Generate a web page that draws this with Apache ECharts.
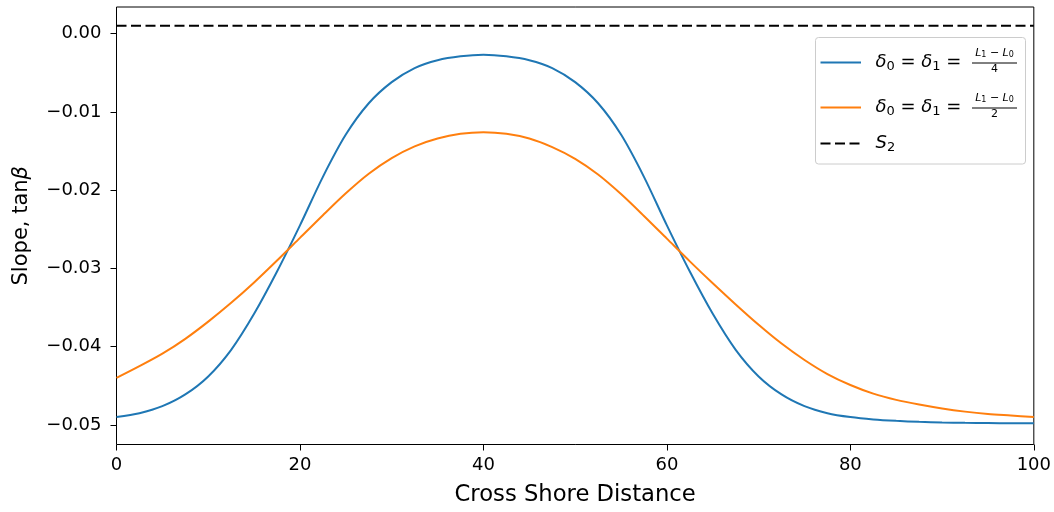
<!DOCTYPE html>
<html>
<head>
<meta charset="utf-8">
<script src="https://cdn.jsdelivr.net/npm/echarts@6/dist/echarts.min.js"></script>
<style>
  html, body { margin: 0; padding: 0; background: #fff; }
  #chart { width: 1054px; height: 512px; }
</style>
</head>
<body>
<div id="chart"></div>
<script>
// Cross-shore positions (same grid for both profiles)
const distance = [
  0, 2.5, 5, 7.5, 10, 12.5, 15, 17.5, 20, 22.5,
  25, 27.5, 30, 32.5, 35, 37.5, 40, 42.5, 45, 47.5,
  50, 52.5, 55, 57.5, 60, 62.5, 65, 67.5, 70, 72.5,
  75, 77.5, 80, 82.5, 85, 87.5, 90, 92.5, 95, 97.5, 100
];

// Slope profile, delta0 = delta1 = (L1 - L0) / 4
const slopeQuarter = [
  -0.0490, -0.0485, -0.0476, -0.0461, -0.0438, -0.0404, -0.0358, -0.0304, -0.0245, -0.0183,
  -0.0129, -0.0089, -0.0062, -0.0044, -0.0034, -0.0029, -0.0027, -0.0029, -0.0034, -0.0044,
  -0.0062, -0.0089, -0.0129, -0.0183, -0.0245, -0.0304, -0.0358, -0.0404, -0.0438, -0.0461,
  -0.0476, -0.0485, -0.0490, -0.0493, -0.04948, -0.0496, -0.04968, -0.04973, -0.04976, -0.04978, -0.0498
];

// Slope profile, delta0 = delta1 = (L1 - L0) / 2
const slopeHalf = [
  -0.0440, -0.0425, -0.0409, -0.0390, -0.0368, -0.0344, -0.0318, -0.0290, -0.0261, -0.0232,
  -0.0204, -0.0179, -0.0159, -0.0144, -0.0134, -0.0128, -0.0126, -0.0128, -0.0134, -0.0145,
  -0.0160, -0.0180, -0.0205, -0.0233, -0.0262, -0.0291, -0.0319, -0.0346, -0.0372, -0.0396,
  -0.0417, -0.0435, -0.0449, -0.0460, -0.0468, -0.0474, -0.0479, -0.0483, -0.0486, -0.0488, -0.0490
];

// Reference slope S2
const s2Level = 0.001;

const xTicks = [0, 20, 40, 60, 80, 100];
const yTicks = [-0.05, -0.04, -0.03, -0.02, -0.01, 0];

const BLUE = '#1f77b4';
const ORANGE = '#ff7f0e';
const FONT = '"DejaVu Sans", Verdana, sans-serif';

const chart = echarts.init(document.getElementById('chart'), null, { renderer: 'canvas' });

// --- legend with stacked fractions, laid out with measured text widths ---
const measureCtx = document.createElement('canvas').getContext('2d');
function fontStr(size, italic) {
  return (italic ? 'italic ' : '') + size + 'px ' + FONT;
}
function textWidth(t, size, italic) {
  measureCtx.font = fontStr(size, italic);
  return measureCtx.measureText(t).width;
}
function textEl(t, x, y, size, italic) {
  return {
    type: 'text', x: x, y: y, silent: true,
    style: {
      text: t, font: fontStr(size, italic), fill: '#000',
      align: 'left', verticalAlign: 'middle',
      textAlign: 'left', textVerticalAlign: 'middle'
    }
  };
}
// pieces: [text, size, italic, dy]
function runWidth(pieces) {
  return pieces.reduce((w, p) => w + textWidth(p[0], p[1], p[2]), 0);
}
function placeRun(pieces, x, y, out) {
  let cx = x;
  pieces.forEach(p => {
    out.push(textEl(p[0], cx, y + (p[3] || 0), p[1], p[2]));
    cx += textWidth(p[0], p[1], p[2]);
  });
  return cx;
}

const deltaRun = [
  ['δ', 18, true, 0], ['0', 13, false, 4], [' = ', 18, false, 0],
  ['δ', 18, true, 0], ['1', 13, false, 4], [' = ', 18, false, 0]
];
const numeratorRun = [
  ['L', 11, true, 0], ['1', 8, false, 2], [' − ', 11, false, 0],
  ['L', 11, true, 0], ['0', 8, false, 2]
];

const legendRows = [
  { color: BLUE, dashed: false, y: 62.5, denom: '4' },
  { color: ORANGE, dashed: false, y: 107.5, denom: '2' },
  { color: '#000', dashed: true, y: 143.5, label: [['S', 18, true, 0], ['2', 13, false, 4]] }
];

const legendEls = [{
  type: 'rect', silent: true,
  shape: { x: 815.5, y: 37.5, width: 210, height: 126.5, r: 3 },
  style: { fill: 'rgba(255,255,255,0.8)', stroke: '#cccccc', lineWidth: 1 }
}];
const textStartX = 875.5;
legendRows.forEach(row => {
  legendEls.push({
    type: 'line', silent: true,
    shape: { x1: 820.5, y1: row.y, x2: 861, y2: row.y },
    style: { stroke: row.color, lineWidth: 2, lineDash: row.dashed ? [10, 4.5] : null }
  });
  if (row.label) {
    placeRun(row.label, textStartX, row.y, legendEls);
    return;
  }
  placeRun(deltaRun, textStartX, row.y, legendEls);
  const barL = 972, barR = 1017, barC = (barL + barR) / 2;
  legendEls.push({
    type: 'line', silent: true,
    shape: { x1: barL, y1: row.y + 0.5, x2: barR, y2: row.y + 0.5 },
    style: { stroke: '#000', lineWidth: 1 }
  });
  const nw = runWidth(numeratorRun);
  placeRun(numeratorRun, barC - nw / 2, row.y - 9.5, legendEls);
  const dw = textWidth(row.denom, 11, false);
  legendEls.push(textEl(row.denom, barC - dw / 2, row.y + 7, 11, false));
});

const option = {
  animation: false,
  backgroundColor: '#fff',
  grid: {
    left: 116.5, right: 20, top: 7, bottom: 67.5,
    show: true, borderColor: '#000', borderWidth: 1, backgroundColor: 'transparent'
  },
  xAxis: {
    type: 'value',
    min: xTicks[0], max: xTicks[xTicks.length - 1], interval: 20,
    name: 'Cross Shore Distance',
    nameLocation: 'middle', nameGap: 39,
    nameTextStyle: { fontFamily: FONT, fontSize: 22.7, color: '#000' },
    axisLine: { show: false, onZero: false },
    axisTick: { show: true, length: 6, lineStyle: { color: '#000', width: 1 } },
    axisLabel: { fontFamily: FONT, fontSize: 18, color: '#000', margin: 12 },
    splitLine: { show: false }
  },
  yAxis: {
    type: 'value',
    min: -0.0525, max: 0.0034,
    name: '{r|Slope, tan}{i|β}',
    nameLocation: 'middle', nameGap: 84, nameRotate: 90,
    nameTextStyle: {
      fontFamily: FONT, fontSize: 21, color: '#000',
      rich: {
        r: { fontFamily: FONT, fontSize: 21, color: '#000' },
        i: { fontFamily: FONT, fontSize: 21, fontStyle: 'italic', color: '#000' }
      }
    },
    axisLine: { show: false, onZero: false },
    axisTick: { show: true, length: 6, customValues: yTicks, lineStyle: { color: '#000', width: 1 } },
    axisLabel: {
      fontFamily: FONT, fontSize: 18, color: '#000', margin: 15,
      customValues: yTicks,
      formatter: v => v.toFixed(2).replace('-', '−')
    },
    splitLine: { show: false }
  },
  series: [
    {
      name: 'quarter',
      type: 'line',
      data: distance.map((x, i) => [x, slopeQuarter[i]]),
      smooth: 0.3,
      showSymbol: false,
      lineStyle: { color: BLUE, width: 2 },
      z: 3
    },
    {
      name: 'half',
      type: 'line',
      data: distance.map((x, i) => [x, slopeHalf[i]]),
      smooth: 0.3,
      showSymbol: false,
      lineStyle: { color: ORANGE, width: 2 },
      z: 3
    },
    {
      name: 'S2',
      type: 'line',
      data: [[xTicks[0], s2Level], [xTicks[xTicks.length - 1], s2Level]],
      showSymbol: false,
      lineStyle: { color: '#000', width: 2, type: [10, 4.5] },
      z: 3
    }
  ],
  graphic: { elements: legendEls }
};

chart.setOption(option);
</script>
</body>
</html>
